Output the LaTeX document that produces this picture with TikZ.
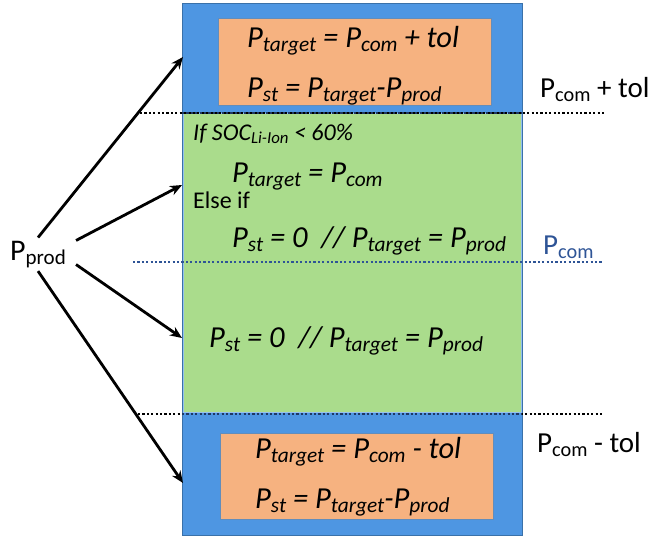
\documentclass[tikz,border=0pt]{standalone}
\usepackage{fontspec}
\setmainfont{Carlito}
\usepackage{xfp}
\usetikzlibrary{positioning,arrows.meta}

\definecolor{bandblue}{RGB}{78,150,226}
\definecolor{zonegreen}{RGB}{170,220,140}
\definecolor{holdorange}{RGB}{246,178,128}
\definecolor{dotnavy}{RGB}{31,56,100}
\definecolor{comblue}{RGB}{46,84,150}

\makeatletter
\newcommand\lo[1]{\raisebox{-0.15em}{\fontsize{\fpeval{0.7*\f@size}}{1}\selectfont #1}}
\makeatother

\begin{document}
\begin{tikzpicture}[x=1pt,y=-1pt]

\tikzstyle{every node}=[inner sep=0pt]
\tikzstyle{rule} = [line width=2.5pt, dash pattern=on 2.2pt off 2.2pt]
\tikzstyle{formula} = [anchor=base west, font=\fontsize{30.5}{36}\selectfont\itshape]
\tikzstyle{cond} = [anchor=base west, font=\fontsize{24}{28}\selectfont]
\tikzstyle{level} = [anchor=base west, font=\fontsize{29}{34}\selectfont]
\tikzstyle{feed} = [line width=2.8pt, -{Stealth[length=12pt,width=10pt]}]

\useasboundingbox (0,0) rectangle (655,538);

% blocks
\node[draw=bandblue!75!black, fill=bandblue, minimum width=340, minimum height=532, anchor=north west] (band) at (182,3) {};
\node[draw=bandblue!60, fill=zonegreen, minimum width=338, minimum height=299, anchor=north west] (zone) at (183,113) {};
\node[draw=bandblue!60!gray, fill=holdorange, minimum width=273, minimum height=87, anchor=north west] (uphold) at (218,18) {};
\node[draw=bandblue!60!gray, fill=holdorange, minimum width=273, minimum height=86, anchor=north west] (lowhold) at (220,433) {};

% thresholds
\coordinate (hiL) at (140,113);  \coordinate (hiR) at (605,113);
\coordinate (midL) at (133,262); \coordinate (midR) at (603,262);
\coordinate (loL) at (138,414);  \coordinate (loR) at (603,414);
\draw[rule, black] (hiL) -- (hiR);
\draw[rule, dotnavy] (band.west |- hiL) -- (band.east |- hiL);
\draw[rule, comblue] (midL) -- (midR);
\draw[rule, black] (loL) -- (loR);
\draw[rule, dotnavy] (band.west |- loL) -- (band.east |- loL);

\node[level] (plustol) at (540,97) {P\lo{com} + tol};
\node[level, text=comblue] (com) at (543,254) {P\lo{com}};
\node[level] (minustol) at (537,452) {P\lo{com} - tol};

% texts in the blocks
\node[formula] (up1) at (247,47) {P\lo{target} = P\lo{com} + tol};
\node[formula] (up2) at (247,97) {P\lo{st} = P\lo{target}-P\lo{prod}};

\node[cond, font=\fontsize{24}{28}\selectfont\itshape] (ifsoc) at (193,140) {If SOC\lo{Li-Ion} < 60\%};
\node[formula] (g1) at (232,182) {P\lo{target} = P\lo{com}};
\node[cond] (elseif) at (193,208) {Else if};
\node[formula] (g2) at (232,247) {P\lo{st} = 0\ \ // P\lo{target} = P\lo{prod}};
\node[formula] (g3) at (209,347) {P\lo{st} = 0\ \ // P\lo{target} = P\lo{prod}};

\node[formula] (lo1) at (255,458) {P\lo{target} = P\lo{com} - tol};
\node[formula] (lo2) at (255,508) {P\lo{st} = P\lo{target}-P\lo{prod}};

% production arrows
\node[level, font=\fontsize{30}{36}\selectfont, inner xsep=10pt, inner ysep=3pt] (prod) at (0,260) {P\lo{prod}};
\coordinate (in1) at (183,57);
\coordinate (in2) at (182,185);
\coordinate (in3) at (182,338);
\coordinate (in4) at (183,483);
\draw[feed] (prod.north) -- (in1);
\draw[feed] (prod.20) -- (in2);
\draw[feed] (prod.-15) -- (in3);
\draw[feed] (prod.south) -- (in4);

\end{tikzpicture}
\end{document}
